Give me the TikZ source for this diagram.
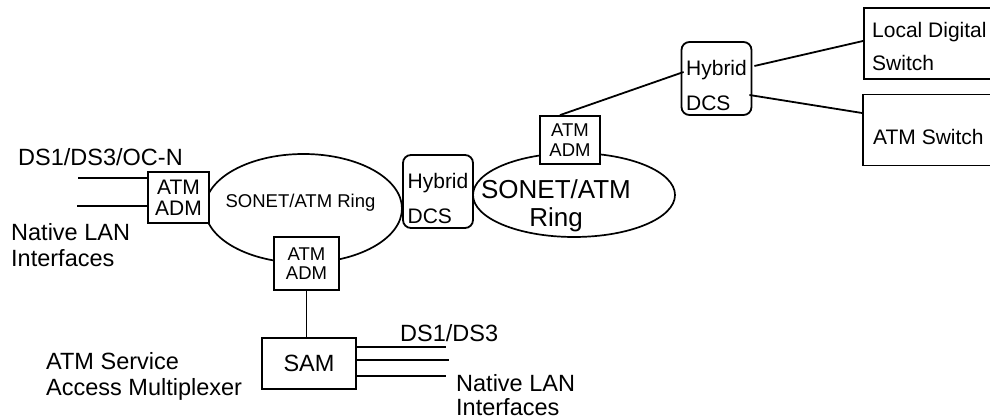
\documentclass[tikz,border=0pt]{standalone}
\usepackage{fontspec}
\setmainfont{Liberation Sans}
\usetikzlibrary{shapes.geometric,calc}

\newcommand{\bigfont}{\fontsize{23.5}{26}\selectfont}
\newcommand{\midfont}{\fontsize{21}{21}\selectfont}
\newcommand{\smallfont}{\fontsize{18.5}{19.5}\selectfont}

\tikzset{
  ring/.style={draw, ellipse, line width=1.7pt, inner sep=0pt},
  admbox/.style={draw, fill=white, line width=1.8pt, inner sep=0pt, align=center},
  dcsbox/.style={draw, fill=white, line width=1.8pt, rounded corners=8pt, inner sep=0pt,
    align=left, minimum width=70pt, minimum height=73pt, font=\midfont},
  swbox/.style={draw, fill=white, line width=1.8pt, inner sep=0pt, align=left, anchor=west,
    minimum width=131pt, minimum height=71pt, font=\midfont},
  lbl/.style={inner sep=0pt, align=left, anchor=west, font=\bigfont},
  link/.style={line width=1.8pt}
}

\begin{document}
\begin{tikzpicture}[x=1pt,y=-1pt]
  \useasboundingbox (0,0) rectangle (990,419);

  % rings
  \node[ring, minimum width=197pt, minimum height=109pt] (lring) at (303.5,208.5) {};
  \node[ring, minimum width=202pt, minimum height=84pt] (rring) at (574,195) {};
  \node[inner sep=0pt, font=\smallfont] (lringtxt) at (300.5,203) {SONET/ATM Ring};
  \node[inner sep=0pt, align=center, font=\fontsize{26}{28}\selectfont] (rringtxt) at (556,206) {SONET/ATM\\Ring};

  % add/drop multiplexers
  \node[admbox, minimum width=61pt, minimum height=51pt, font=\midfont] (ladm) at (178.5,197.5) {ATM\\ADM};
  \node[admbox, minimum width=65pt, minimum height=53pt, font=\smallfont] (badm) at (306.5,263.5) {ATM\\ADM};
  \node[admbox, minimum width=60pt, minimum height=48pt, font=\smallfont] (uadm) at (570,140) {ATM\\ADM};

  % cross-connects and switches
  \node[dcsbox] (mdcs) at (438,191.5) {\rule{0pt}{30pt}Hybrid\\[14pt]DCS};
  \node[dcsbox] (tdcs) at (716.5,78.5) {\rule{0pt}{30pt}Hybrid\\[14pt]DCS};
  \node[swbox] (lds) at (863,43.5) {\rule{0pt}{21pt}Local Digital\\[12pt]Switch};
  \node[swbox] (atms) at (862,130) {\rule{0pt}{29pt}ATM Switch};
  \node[admbox, minimum width=94pt, minimum height=51pt, font=\bigfont] (sam) at (309,363.5) {SAM};

  % labels
  \node[lbl] (ds1a) at (18,157) {DS1/DS3/OC-N};
  \node[lbl] (lan1) at (11,245) {Native LAN\\Interfaces};
  \node[lbl] (samlbl) at (46,376) {ATM Service\\Access Multiplexer};
  \node[lbl] (ds1b) at (400,333) {DS1/DS3};
  \node[lbl, font=\fontsize{23.5}{23.5}\selectfont] (lan2) at (456,395) {Native LAN\\Interfaces};

  % tributaries
  \coordinate (in1) at (78,178);
  \coordinate (in2) at (77,206);
  \coordinate (out1) at (446,347);
  \coordinate (out2) at (449,360);
  \coordinate (out3) at (446,376);
  \foreach \i in {in1,in2}
    \draw[link] (\i) -- (\i -| ladm.west);
  \foreach \o in {out1,out2,out3}
    \draw[link] (sam.east |- \o) -- (\o);

  % links
  \draw[link] (badm.south) -- (badm.south |- sam.north);
  \draw[link] ([xshift=-10pt]uadm.north) -- ([xshift=3pt,yshift=6.5pt]tdcs.west);
  \draw[link] ([xshift=2pt,yshift=12.5pt]tdcs.east) -- ([yshift=2.5pt]lds.west);
  \draw[link] ([xshift=-3pt,yshift=-16.5pt]tdcs.east) -- ([yshift=17pt]atms.west);
\end{tikzpicture}
\end{document}
